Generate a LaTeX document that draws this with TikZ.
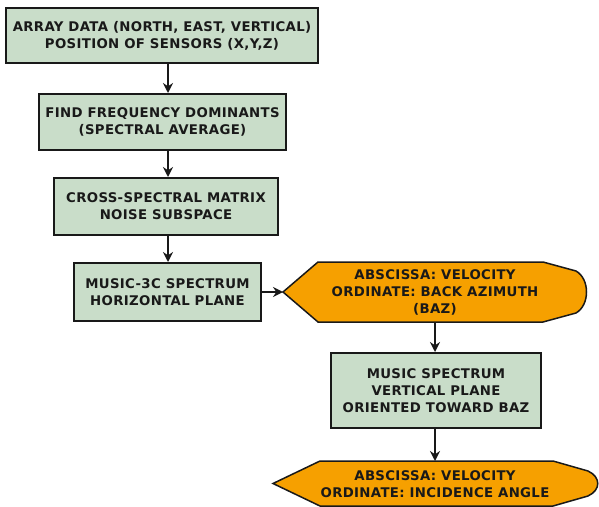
\documentclass[tikz,border=0pt]{standalone}
\usepackage{fontspec}
\setmainfont{DejaVu Sans}[LetterSpace=2.5]
\usetikzlibrary{arrows.meta,calc}
\definecolor{sage}{RGB}{201,221,201}
\definecolor{orng}{RGB}{246,160,0}
\definecolor{ink}{RGB}{25,25,25}
\begin{document}
\begin{tikzpicture}[x=1pt,y=-1pt,
  stepbox/.style={draw=ink,line width=2pt,fill=sage,inner sep=0pt,align=center,
    font=\fontsize{13.3}{17}\selectfont\bfseries,text=ink},
  disp/.style={draw=ink,line width=1.5pt,fill=orng},
  lbl/.style={inner sep=0pt,align=center,font=\fontsize{13.3}{17}\selectfont\bfseries,text=ink},
  conn/.style={draw=ink,line width=2pt,-{Stealth[length=10pt,width=10pt]}}]
\useasboundingbox (0,0) rectangle (599,506);
\fill[white] (0,0) rectangle (599,506);

\node[stepbox,minimum width=312pt,minimum height=55pt] (b1) at (162,35.5)
  {ARRAY DATA (NORTH, EAST, VERTICAL)\\POSITION OF SENSORS (X,Y,Z)};
\node[stepbox,minimum width=247pt,minimum height=56pt] (b2) at (162.5,122)
  {FIND FREQUENCY DOMINANTS\\(SPECTRAL AVERAGE)};
\node[stepbox,minimum width=224pt,minimum height=57pt] (b3) at (166,206.5)
  {CROSS-SPECTRAL MATRIX\\NOISE SUBSPACE};
\node[stepbox,minimum width=187pt,minimum height=58pt] (b4) at (167.5,292)
  {MUSIC-3C SPECTRUM\\HORIZONTAL PLANE};
\coordinate (ax) at (168,0);

% display shape 1
\draw[disp] (283,292) -- (318,262) -- (543,262) -- (576,271)
  .. controls (590,279) and (590,305) .. (576,313) -- (543,322) -- (318,322) -- cycle;
\coordinate (o1tip) at (283,292);
\coordinate (o1bot) at (435,322);
\node[lbl] (o1) at (435,292) {ABSCISSA: VELOCITY\\ORDINATE: BACK AZIMUTH\\(BAZ)};

\node[stepbox,minimum width=210pt,minimum height=75pt] (b5) at (436,390.5)
  {MUSIC SPECTRUM\\VERTICAL PLANE\\ORIENTED TOWARD BAZ};

% display shape 2
\draw[disp] (273,483.5) -- (320,461) -- (553,461) -- (588,471)
  .. controls (601,477) and (601,490) .. (588,496) -- (553,506) -- (320,506) -- cycle;
\coordinate (o2top) at (435,461);
\node[lbl] (o2) at (435,484.5) {ABSCISSA: VELOCITY\\ORDINATE: INCIDENCE ANGLE};

\draw[conn] (b1.south -| ax) -- (b2.north -| ax);
\draw[conn] (b2.south -| ax) -- (b3.north -| ax);
\draw[conn] (b3.south -| ax) -- (b4.north -| ax);
\draw[conn] (b4.east) -- (o1tip);
\draw[conn] (o1bot) -- (b5.north -| o1bot);
\draw[conn] (b5.south -| o1bot) -- (o2top);
\end{tikzpicture}
\end{document}
